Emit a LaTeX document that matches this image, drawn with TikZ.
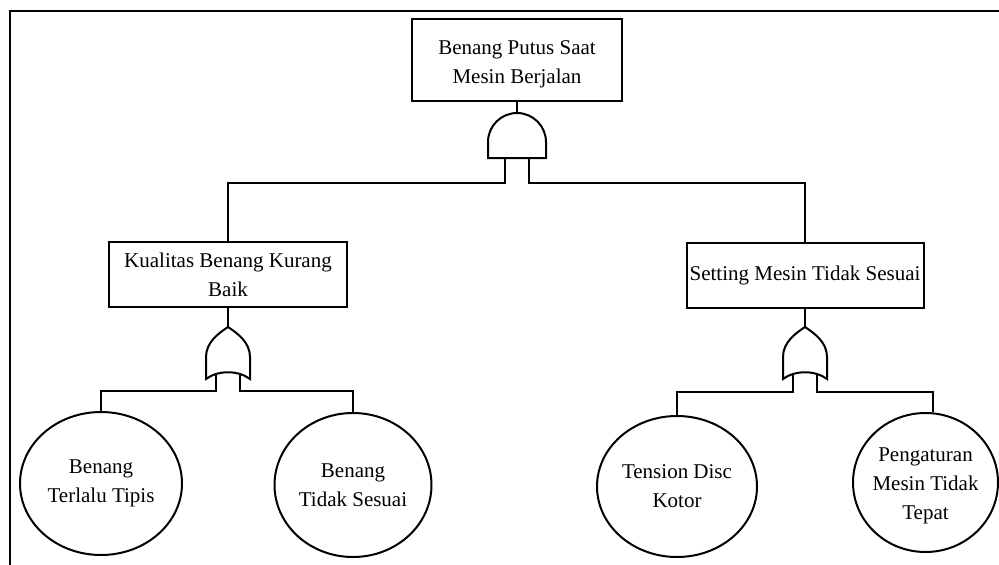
\documentclass[tikz,border=0pt]{standalone}
\usepackage{fontspec}
\setmainfont{Liberation Serif}
\usetikzlibrary{shapes.geometric}
\begin{document}
\begin{tikzpicture}[x=1pt,y=-1pt,line width=2pt,
  every node/.style={font=\fontsize{21}{29}\selectfont, text=black},
  box/.style={draw, rectangle, align=center, inner sep=0pt},
  evt/.style={draw, ellipse, align=center, inner sep=0pt},
  andgate/.pic={
    \draw (-29,45) -- (-29,29) .. controls (-29,13) and (-16,0) .. (0,0)
          .. controls (16,0) and (29,13) .. (29,29) -- (29,45) -- cycle;
    \coordinate (-top) at (0,0);
    \coordinate (-l) at (-12,45);
    \coordinate (-r) at (12,45);
  },
  orgate/.pic={
    \draw (-22,52) -- (-22,30) .. controls (-22,15) and (-9,6) .. (0,0)
          .. controls (9,6) and (22,15) .. (22,30) -- (22,52)
          .. controls (10,43) and (-10,43) .. cycle;
    \coordinate (-top) at (0,0);
    \coordinate (-l) at (-12,47);
    \coordinate (-r) at (12,47);
  }]
\useasboundingbox (0,0) rectangle (999,565);
% frame
\draw[line width=2.6pt] (10,566) -- (10,11) -- (1000,11);

% top event
\node[box, minimum width=210pt, minimum height=82pt] (top) at (517,60) {};
\node[align=center] (toptext) at (517,64) {Benang Putus Saat\\Mesin Berjalan};
\pic (ga) at (517,113) {andgate};

% intermediate events
\node[box, minimum width=238pt, minimum height=65pt] (kb) at (228,274.5)
  {Kualitas Benang Kurang\\Baik};
\node[box, minimum width=237pt, minimum height=65pt] (sm) at (805,275.5)
  {Setting Mesin Tidak Sesuai};

\pic (o1) at (228,327) {orgate};
\pic (o2) at (805,327) {orgate};

% basic events
\node[evt, minimum width=162pt, minimum height=143pt] (e1) at (101,483.5)
  {Benang\\Terlalu Tipis};
\node[evt, minimum width=157pt, minimum height=144pt] (e2) at (353,485)
  {Benang\\Tidak Sesuai};
\node[evt, minimum width=160pt, minimum height=141pt] (e3) at (677,486.5)
  {Tension Disc\\Kotor};
\node[evt, minimum width=145pt, minimum height=139pt] (e4) at (925.5,482.5) {};
\node[align=center] (e4text) at (925.5,486) {Pengaturan\\Mesin Tidak\\Tepat};

% connectors
\draw (top.south) -- (ga-top);
\draw (ga-l) -- ++(0,25) -| (kb.north);
\draw (ga-r) -- ++(0,25) -| (sm.north);
\draw (kb.south) -- (o1-top);
\draw (sm.south) -- (o2-top);
\draw (o1-l) -- ++(0,17) -| (e1.north);
\draw (o1-r) -- ++(0,17) -| (e2.north);
\draw (o2-l) -- ++(0,18) -| (e3.north);
\draw (o2-r) -- ++(0,18) -| (e4.84);
\end{tikzpicture}
\end{document}
